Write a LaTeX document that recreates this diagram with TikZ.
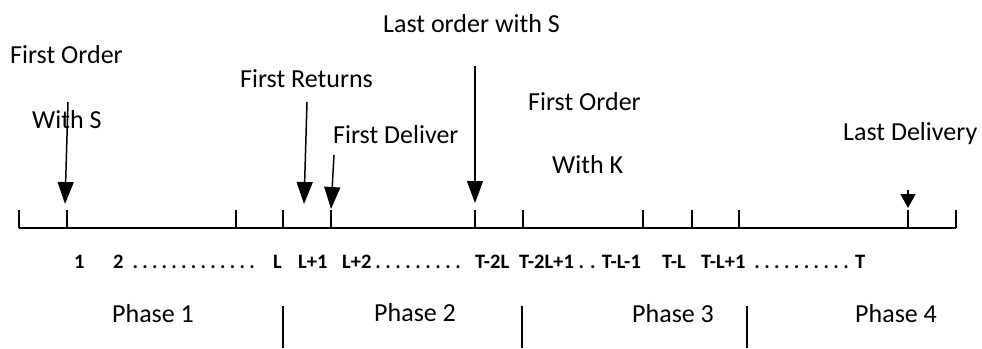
\documentclass[tikz,border=0pt]{standalone}
\usepackage{fontspec}
\setmainfont{Carlito}
\usetikzlibrary{arrows.meta}
% a run of spaced dots: \dotrun{count}{gap}
\newcommand\dotrun[2]{\foreach \i in {1,...,#1}{.\hspace{#2}}}
\begin{document}
\begin{tikzpicture}[x=1pt,y=-1pt,
  lbl/.style={anchor=base west,inner sep=0pt,font=\fontsize{26}{30}\selectfont},
  num/.style={anchor=base west,inner sep=0pt,font=\fontsize{20.5}{24}\selectfont\bfseries},
  axis/.style={line width=1.5pt},
  tickmark/.style={line width=1.5pt},
  sep/.style={line width=1.4pt},
  evt/.style={line width=1.5pt,-{Triangle[width=16pt,length=22pt]}},
  evtsmall/.style={line width=1.5pt,-{Triangle[width=15pt,length=14pt]}}]
\useasboundingbox (0,0) rectangle (982,348);

% time axis and its ticks
\coordinate (a0) at (19,228);
\coordinate (a1) at (956,228);
\draw[axis] (a0) -- (a1);
\foreach \x in {19,67,236,283,331,475,523,643,692,739,908,956}
  \draw[tickmark] (\x,228) -- (\x,210);

% period labels under the axis
\node[num] (n1)  at (74,268)  {1};
\node[num] (n2)  at (113,268) {2\hspace{9pt}\dotrun{13}{4.25pt}};
\node[num] (nL)  at (273,268) {L};
\node[num] (nL1) at (298,268) {L+1};
\node[num] (nL2) at (342,268) {L+2\hspace{4pt}\dotrun{9}{4.5pt}};
\node[num] (nT2L) at (475,268) {T-2L};
\node[num] (nT2L1) at (519,268) {T-2L+1 . . T-L-1};
\node[num] (nTL) at (662,268) {T-L};
\node[num] (nTL1) at (701,268) {T-L+1\hspace{9pt}\dotrun{10}{4.4pt}\hspace{2pt}T};

% event labels above the axis
\node[lbl] (fo1) at (10,63)   {First Order};
\node[lbl] (ws)  at (32,128)  {With S};
\node[lbl] (fr)  at (240,87)  {First Returns};
\node[lbl] (fd)  at (333,143) {First Deliver};
\node[lbl] (lo)  at (383,32)  {Last order with S};
\node[lbl] (fo2) at (528,110) {First Order};
\node[lbl] (wk)  at (552,173) {With K};
\node[lbl] (ld)  at (843,140) {Last Delivery};

% event arrows
\coordinate (s1) at (68,102);   \coordinate (e1) at (65,204);
\coordinate (s2) at (307,102);  \coordinate (e2) at (304,204);
\coordinate (s3) at (334,155);  \coordinate (e3) at (331,209);
\coordinate (s4) at (475,66);   \coordinate (e4) at (475,203);
\coordinate (s5) at (908,190);  \coordinate (e5) at (908,208);
\draw[evt] (s1) -- (e1);
\draw[evt] (s2) -- (e2);
\draw[evt] (s3) -- (e3);
\draw[evt] (s4) -- (e4);
\draw[evtsmall] (s5) -- (e5);

% phases and their separators
\node[lbl] (p1) at (112,322) {Phase 1};
\node[lbl] (p2) at (374,321) {Phase 2};
\node[lbl] (p3) at (632,322) {Phase 3};
\node[lbl] (p4) at (855,322) {Phase 4};
\draw[sep] (283,306) -- (283,348);
\draw[sep] (522,306) -- (522,348);
\draw[sep,line width=2.6pt] (747,306) -- (747,348);
\end{tikzpicture}
\end{document}
